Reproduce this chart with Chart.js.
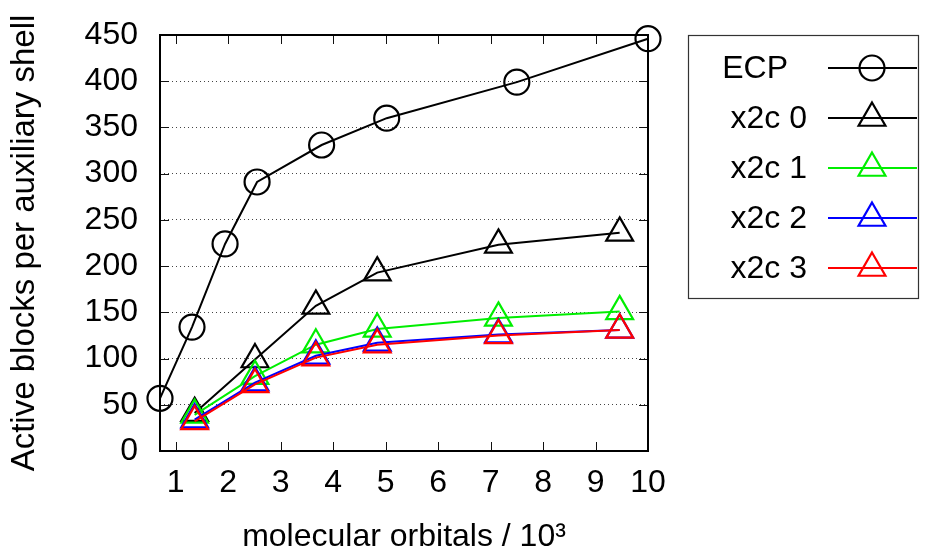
<!DOCTYPE html>
<html>
<head>
<meta charset="utf-8">
<script src="https://cdn.jsdelivr.net/npm/chart.js@4/dist/chart.umd.min.js"></script>
<style>
  html, body { margin: 0; padding: 0; background: #fff; }
  #wrap { width: 926px; height: 554px; }
</style>
</head>
<body>
<div id="wrap"><canvas id="chart" width="926" height="554"></canvas></div>
<script>
// values (x in 10^3 molecular orbitals)
const ecpX = [0.7, 1.31, 1.94, 2.55, 3.78, 5.02, 7.5, 10.0]
const ecpY = [57, 134, 224, 291, 331, 360, 399, 446]
const x2cX = [1.36, 2.51, 3.67, 4.84, 7.15, 9.46]
const x2c0 = [41, 99, 157, 193, 223, 236]
const x2c1 = [39, 81, 115, 132, 144, 151]
const x2c2 = [34, 74, 103, 117, 126, 131]
const x2c3 = [32, 72, 101, 115, 125, 131]
const xTicks = [1, 2, 3, 4, 5, 6, 7, 8, 9, 10]
const yTicks = [0, 50, 100, 150, 200, 250, 300, 350, 400, 450]

const FONT = 'Liberation Sans, Arial, Helvetica, sans-serif'
const pts = (xs, ys) => xs.map((x, i) => ({x: x, y: ys[i]}))

function series(label, xs, ys, color, style, radius, order) {
  return {
    label: label,
    data: pts(xs, ys),
    borderColor: color,
    backgroundColor: 'rgba(0,0,0,0)',
    borderWidth: 2,
    pointStyle: style,
    pointRadius: radius,
    pointBorderWidth: 2.2,
    pointBorderColor: color,
    pointBackgroundColor: 'rgba(0,0,0,0)',
    tension: 0,
    clip: false,
    order: order
  }
}

// key text right edges (gnuplot puts ECP a bit further left)
const keyTextRight = [788, 807, 807, 807, 807]

// frame, inward ticks, gnuplot-like key
const gnuFrame = {
  id: 'gnuFrame',
  beforeDatasetsDraw(chart) {
    const {ctx, chartArea: a, scales: {x, y}} = chart
    ctx.save()
    ctx.strokeStyle = '#111'
    ctx.lineWidth = 1
    xTicks.forEach(v => {
      const px = Math.round(x.getPixelForValue(v)) + 0.5
      ctx.beginPath()
      ctx.moveTo(px, a.bottom); ctx.lineTo(px, a.bottom - 9)
      ctx.moveTo(px, a.top); ctx.lineTo(px, a.top + 9)
      ctx.stroke()
    })
    yTicks.forEach(v => {
      const py = Math.round(y.getPixelForValue(v)) + 0.5
      ctx.beginPath()
      ctx.moveTo(a.left, py); ctx.lineTo(a.left + 9, py)
      ctx.moveTo(a.right, py); ctx.lineTo(a.right - 9, py)
      ctx.stroke()
    })
    ctx.lineWidth = 2
    ctx.strokeStyle = '#000'
    ctx.strokeRect(a.left, a.top, a.right - a.left, a.bottom - a.top)
    ctx.restore()
  },
  afterDraw(chart) {
    const ctx = chart.ctx
    ctx.save()
    ctx.strokeStyle = '#333'
    ctx.lineWidth = 1.2
    ctx.strokeRect(688.5, 35.5, 230, 263)
    ctx.font = '32px ' + FONT
    ctx.textAlign = 'right'
    ctx.textBaseline = 'middle'
    chart.data.datasets.forEach((ds, i) => {
      const yy = 68 + 50 * i
      ctx.fillStyle = '#000'
      ctx.fillText(ds.label, keyTextRight[i], yy + 1)
      ctx.strokeStyle = ds.borderColor
      ctx.lineWidth = 2
      ctx.beginPath()
      ctx.moveTo(828, yy); ctx.lineTo(917, yy)
      ctx.stroke()
      ctx.fillStyle = 'rgba(0,0,0,0)'
      ctx.lineWidth = 2.2
      Chart.helpers.drawPoint(ctx, {
        pointStyle: ds.pointStyle, radius: ds.pointRadius, borderWidth: 2.2, rotation: 0
      }, 872, yy)
    })
    ctx.restore()
  }
}

window.addEventListener('load', e => {
  const ctx = document.querySelector('#chart').getContext('2d')
  new Chart(ctx, {
    type: 'line',
    data: {
      datasets: [
        series('ECP', ecpX, ecpY, '#000000', 'circle', 12.5, 5),
        series('x2c 0', x2cX, x2c0, '#000000', 'triangle', 15.5, 4),
        series('x2c 1', x2cX, x2c1, '#00ee00', 'triangle', 15.5, 3),
        series('x2c 2', x2cX, x2c2, '#0000ff', 'triangle', 15.5, 2),
        series('x2c 3', x2cX, x2c3, '#ff0000', 'triangle', 15.5, 1)
      ]
    },
    options: {
      responsive: false,
      animation: false,
      layout: { padding: { left: 0, top: 35, right: 278, bottom: 0 } },
      plugins: { legend: { display: false }, tooltip: { enabled: false } },
      scales: {
        x: {
          type: 'linear',
          min: 0.7,
          max: 10,
          afterBuildTicks(s) { s.ticks = xTicks.map(v => ({value: v})) },
          afterFit(s) { s.height = 103 },
          grid: { display: false, drawTicks: false },
          border: { display: false },
          ticks: { color: '#000', padding: 13, font: { family: FONT, size: 32 }, maxRotation: 0, autoSkip: false },
          title: {
            display: true, text: 'molecular orbitals / 10³', color: '#000',
            font: { family: FONT, size: 32 }, padding: { top: 0, bottom: -2 }
          }
        },
        y: {
          min: 0,
          max: 450,
          afterBuildTicks(s) { s.ticks = yTicks.map(v => ({value: v})) },
          afterFit(s) { s.width = 160; s.paddingTop = 0; s.paddingBottom = 0 },
          grid: {
            drawTicks: false, lineWidth: 1,
            color: c => (c.tick.value === 0 || c.tick.value === 450) ? 'rgba(0,0,0,0)' : '#444'
          },
          border: { display: false, dash: [1, 3] },
          ticks: { color: '#000', padding: 22, font: { family: FONT, size: 32 } },
          title: {
            display: true, text: 'Active blocks per auxiliary shell', color: '#000',
            font: { family: FONT, size: 33 }, padding: { top: 5, bottom: 0 }
          }
        }
      }
    },
    plugins: [gnuFrame]
  })
})
</script>
</body>
</html>
